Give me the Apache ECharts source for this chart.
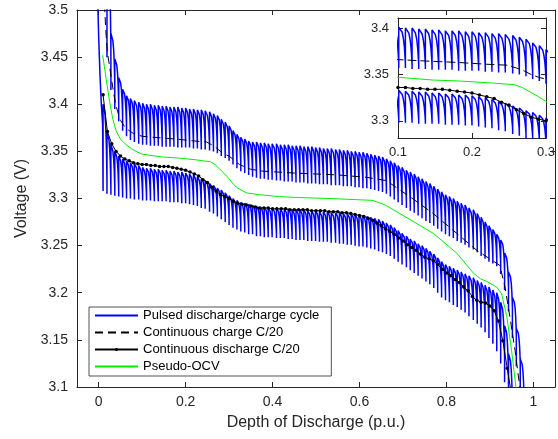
<!DOCTYPE html>
<html><head><meta charset="utf-8">
<script src="https://cdn.jsdelivr.net/npm/echarts@6/dist/echarts.min.js"></script>
<style>html,body{margin:0;padding:0;background:#fff}#c{width:558px;height:439px}</style>
</head><body><div id="c"></div>
<script>
// ---------- data ----------
const pulseDoD = [
0.001,0.010,0.019,0.028,0.037,0.046,0.055,0.064,0.073,0.082,
0.092,0.101,0.110,0.119,0.128,0.137,0.146,0.155,0.164,0.173,
0.182,0.191,0.200,0.209,0.218,0.227,0.236,0.245,0.255,0.264,
0.273,0.282,0.291,0.300,0.309,0.318,0.327,0.336,0.345,0.354,
0.363,0.372,0.381,0.390,0.399,0.409,0.418,0.427,0.436,0.445,
0.454,0.463,0.472,0.481,0.490,0.499,0.508,0.517,0.526,0.535,
0.545,0.554,0.563,0.572,0.581,0.590,0.599,0.608,0.617,0.626,
0.635,0.644,0.653,0.662,0.671,0.680,0.689,0.698,0.708,0.717,
0.726,0.735,0.744,0.753,0.762,0.771,0.780,0.789,0.798,0.807,
0.816,0.825,0.834,0.843,0.852,0.862,0.871,0.880,0.889,0.898,
0.907,0.916,0.925,0.934,0.943,0.952,0.961,0.970];

const chargePulseHigh = [
null,null,3.560,3.475,3.448,3.428,3.416,3.409,3.406,3.404,
3.402,3.401,3.400,3.400,3.399,3.399,3.398,3.398,3.397,3.397,
3.397,3.396,3.396,3.395,3.395,3.394,3.394,3.393,3.392,3.390,
3.388,3.384,3.381,3.377,3.372,3.368,3.365,3.363,3.361,3.360,
3.360,3.359,3.359,3.358,3.358,3.358,3.357,3.357,3.357,3.356,
3.356,3.356,3.355,3.355,3.355,3.354,3.354,3.353,3.353,3.353,
3.352,3.352,3.351,3.351,3.350,3.350,3.349,3.349,3.348,3.347,
3.346,3.345,3.344,3.342,3.340,3.338,3.335,3.333,3.330,3.328,
3.326,3.323,3.321,3.318,3.316,3.313,3.310,3.307,3.304,3.302,
3.300,3.297,3.295,3.293,3.290,3.288,3.284,3.280,3.275,3.271,
3.267,3.262,3.256,3.242,3.222,3.195,3.162,3.130];

const chargePulseLow = [
null,null,3.450,3.415,3.395,3.382,3.372,3.366,3.362,3.360,
3.358,3.357,3.357,3.356,3.356,3.356,3.355,3.355,3.355,3.355,
3.354,3.354,3.354,3.354,3.353,3.353,3.352,3.352,3.351,3.350,
3.348,3.345,3.343,3.340,3.336,3.332,3.329,3.327,3.325,3.323,
3.322,3.321,3.321,3.320,3.320,3.319,3.319,3.318,3.318,3.318,
3.317,3.317,3.317,3.316,3.316,3.316,3.315,3.315,3.315,3.314,
3.314,3.314,3.313,3.313,3.313,3.312,3.312,3.311,3.311,3.310,
3.309,3.308,3.307,3.305,3.302,3.299,3.296,3.293,3.290,3.287,
3.285,3.282,3.279,3.276,3.274,3.271,3.268,3.265,3.262,3.260,
3.258,3.255,3.253,3.251,3.248,3.246,3.243,3.239,3.236,3.233,
3.231,3.228,3.220,3.203,3.180,3.152,3.122,3.080];

// first discharge pulse: continuous descent from above the axis
const firstDischargeDoD = [-0.003,0.000,0.003,0.006,0.009];
const firstDischargeV   = [3.520,3.470,3.430,3.400,3.378];

const dischargePulseHigh = [
null,3.400,3.370,3.357,3.350,3.345,3.342,3.340,3.338,3.337,
3.335,3.333,3.332,3.332,3.331,3.331,3.330,3.330,3.329,3.329,
3.328,3.328,3.327,3.326,3.325,3.323,3.321,3.319,3.316,3.314,
3.311,3.309,3.306,3.303,3.300,3.298,3.296,3.295,3.294,3.293,
3.292,3.291,3.291,3.290,3.290,3.290,3.289,3.289,3.289,3.288,
3.288,3.288,3.288,3.287,3.287,3.287,3.286,3.286,3.286,3.285,
3.285,3.285,3.284,3.284,3.284,3.283,3.283,3.282,3.281,3.280,
3.279,3.278,3.276,3.274,3.272,3.269,3.266,3.263,3.260,3.257,
3.255,3.252,3.250,3.247,3.244,3.241,3.237,3.233,3.230,3.228,
3.226,3.224,3.222,3.220,3.218,3.216,3.213,3.211,3.208,3.206,
3.203,3.200,3.190,3.165,3.135];

const dischargePulseLow = [
null,3.308,3.305,3.304,3.303,3.302,3.301,3.300,3.300,3.299,
3.299,3.298,3.298,3.298,3.297,3.297,3.297,3.297,3.296,3.296,
3.296,3.295,3.295,3.294,3.293,3.292,3.290,3.289,3.286,3.284,
3.281,3.278,3.275,3.272,3.269,3.267,3.265,3.264,3.262,3.262,
3.260,3.260,3.259,3.259,3.259,3.258,3.258,3.258,3.257,3.257,
3.256,3.256,3.256,3.255,3.255,3.255,3.254,3.254,3.254,3.253,
3.253,3.252,3.252,3.251,3.251,3.250,3.249,3.249,3.248,3.247,
3.246,3.244,3.243,3.241,3.239,3.236,3.233,3.230,3.227,3.224,
3.221,3.218,3.215,3.212,3.209,3.205,3.200,3.195,3.192,3.190,
3.187,3.185,3.182,3.179,3.175,3.171,3.167,3.163,3.158,3.152,
3.146,3.138,3.125,3.105,3.075];

// waveform of one pulse: [fraction of pulse spacing, fraction of pulse amplitude]
const chargePulseShape = [[0,0],[0,1],[0.25,0.97],[0.5,0.88],[0.7,0.72],[0.85,0.5],[0.95,0.25],[1,0.08]];
const dischargePulseShape = [[0,0],[0,1],[0.25,0.97],[0.5,0.88],[0.7,0.72],[0.85,0.5],[0.95,0.25],[1,0.08]];

const dischargeDoD = [
0.01,0.02,0.03,0.04,0.05,0.06,0.07,0.08,0.09,0.10,
0.11,0.12,0.13,0.14,0.15,0.16,0.17,0.18,0.19,0.20,
0.21,0.22,0.23,0.24,0.25,0.26,0.27,0.28,0.29,0.30,
0.31,0.32,0.33,0.34,0.35,0.36,0.37,0.38,0.39,0.40,
0.41,0.42,0.43,0.44,0.45,0.46,0.47,0.48,0.49,0.50,
0.51,0.52,0.53,0.54,0.55,0.56,0.57,0.58,0.59,0.60,
0.61,0.62,0.63,0.64,0.65,0.66,0.67,0.68,0.69,0.70,
0.71,0.72,0.73,0.74,0.75,0.76,0.77,0.78,0.79,0.80,
0.81,0.82,0.83,0.84,0.85,0.86,0.87,0.88,0.89,0.90,
0.91,0.92,0.93,0.94,0.95];
const dischargeV = [
3.410,3.371,3.358,3.350,3.345,3.342,3.340,3.338,3.337,3.336,
3.336,3.335,3.335,3.334,3.334,3.334,3.333,3.332,3.331,3.330,
3.328,3.326,3.324,3.320,3.317,3.312,3.308,3.304,3.302,3.300,
3.297,3.295,3.294,3.293,3.292,3.291,3.290,3.290,3.290,3.289,
3.289,3.289,3.289,3.288,3.288,3.288,3.288,3.288,3.287,3.287,
3.287,3.287,3.286,3.286,3.286,3.285,3.285,3.284,3.283,3.282,
3.281,3.279,3.277,3.274,3.271,3.268,3.265,3.262,3.258,3.255,
3.251,3.248,3.245,3.241,3.238,3.236,3.234,3.230,3.225,3.221,
3.218,3.214,3.211,3.206,3.202,3.196,3.192,3.190,3.189,3.186,
3.181,3.170,3.149,3.120,3.092];

const chargeDoD = [0.012,0.016,0.020,0.025,0.030,0.035,0.040,0.045,0.050,0.060,0.070,0.080,0.100,0.150,0.180,0.220,0.248,0.260,0.270,0.280,0.290,0.300,0.324,0.350,0.378,0.450,0.550,0.616,0.662,0.690,0.716,0.770,0.824,0.870,0.923,0.935,0.946,0.958,0.969,0.975];
const chargeV   = [3.520,3.480,3.455,3.440,3.425,3.410,3.398,3.390,3.383,3.376,3.372,3.369,3.366,3.364,3.363,3.361,3.360,3.357,3.354,3.350,3.347,3.345,3.336,3.331,3.329,3.327,3.325,3.3225,3.319,3.310,3.302,3.284,3.263,3.245,3.229,3.206,3.175,3.139,3.100,3.080];

const ocvDoD = [0.009,0.013,0.017,0.025,0.032,0.040,0.050,0.063,0.075,0.086,0.100,0.147,0.182,0.224,0.257,0.268,0.279,0.290,0.300,0.310,0.320,0.340,0.370,0.416,0.462,0.532,0.631,0.660,0.693,0.730,0.770,0.824,0.862,0.878,0.893,0.916,0.927,0.939,0.950,0.960,0.965];
const ocvV   = [3.452,3.440,3.427,3.403,3.385,3.372,3.363,3.357,3.353,3.350,3.347,3.344,3.343,3.341,3.339,3.336,3.331,3.326,3.321,3.315,3.311,3.306,3.304,3.302,3.301,3.300,3.298,3.293,3.284,3.274,3.263,3.242,3.221,3.215,3.212,3.206,3.199,3.175,3.139,3.100,3.080];

const mainXTicks = [0,0.2,0.4,0.6,0.8,1];
const mainYTicks = [3.1,3.15,3.2,3.25,3.3,3.35,3.4,3.45,3.5];
const insetXTicks = [0.1,0.2,0.3];
const insetYTicks = [3.3,3.35,3.4];

const names = ['Pulsed discharge/charge cycle','Continuous charge C/20','Continuous discharge C/20','Pseudo-OCV'];

// ---------- build ----------
const zip = (a,b) => a.map((v,i)=>[v,b[i]]);
function pulseLine(xs, hi, lo, shape){
  const pts = [];
  for (let k = 0; k < hi.length; k++){
    if (hi[k] == null) continue;
    const d = (k + 1 < xs.length) ? xs[k+1] - xs[k] : xs[k] - xs[k-1];
    for (const [fx, fy] of shape) pts.push([xs[k] + fx*d, lo[k] + fy*(hi[k]-lo[k])]);
  }
  return pts;
}
const chargePulsePts = pulseLine(pulseDoD, chargePulseHigh, chargePulseLow, chargePulseShape);
const dischargePulsePts = zip(firstDischargeDoD, firstDischargeV)
  .concat(pulseLine(pulseDoD, dischargePulseHigh, dischargePulseLow, dischargePulseShape));

function makeSeries(xi, yi, dash){
  const base = {type:'line', xAxisIndex:xi, yAxisIndex:yi, clip:true, animation:false, silent:true};
  return [
    Object.assign({}, base, {name:names[0], data:chargePulsePts, symbol:'none', lineStyle:{color:'#0000ff', width:1.5}, itemStyle:{color:'#0000ff'}}),
    Object.assign({}, base, {name:names[0], data:dischargePulsePts, symbol:'none', lineStyle:{color:'#0000ff', width:1.5}, itemStyle:{color:'#0000ff'}}),
    Object.assign({}, base, {name:names[3], data:zip(ocvDoD, ocvV), symbol:'none', lineStyle:{color:'#00f000', width:1}, itemStyle:{color:'#00f000'}}),
    Object.assign({}, base, {name:names[1], data:zip(chargeDoD, chargeV), symbol:'none', lineStyle:{color:'#000', width:1, type:dash}, itemStyle:{color:'#000'}}),
    Object.assign({}, base, {name:names[2], data:zip(dischargeDoD, dischargeV), symbol:'circle', symbolSize:3.5, showSymbol:true, lineStyle:{color:'#000', width:1}, itemStyle:{color:'#000'}})
  ];
}

const axisColor = '#262626';
const fmt = v => String(+(+v).toFixed(3));
function xAx(grid, min, max, ticks, pos, showLabel, fs, name){
  return {type:'value', gridIndex:grid, min, max, position:pos,
    axisLine:{show:true, onZero:false, lineStyle:{color:axisColor, width:1}},
    axisTick:{show:true, inside:true, length:5, customValues:ticks, lineStyle:{color:axisColor}},
    axisLabel:{show:showLabel, customValues:ticks, formatter:fmt, color:axisColor, fontSize:fs, fontFamily:'Liberation Sans', margin:8},
    splitLine:{show:false},
    name:name||'', nameLocation:'middle', nameGap:28, nameTextStyle:{color:axisColor, fontSize:16, fontFamily:'Liberation Sans'}};
}
function yAx(grid, min, max, ticks, pos, showLabel, fs, name){
  return {type:'value', gridIndex:grid, min, max, position:pos,
    axisLine:{show:true, onZero:false, lineStyle:{color:axisColor, width:1}},
    axisTick:{show:true, inside:true, length:5, customValues:ticks, lineStyle:{color:axisColor}},
    axisLabel:{show:showLabel, customValues:ticks, formatter:fmt, color:axisColor, fontSize:fs, fontFamily:'Liberation Sans', margin:9},
    splitLine:{show:false},
    name:name||'', nameLocation:'middle', nameGap:35, nameRotate:90, nameTextStyle:{color:axisColor, fontSize:16, fontFamily:'Liberation Sans'}};
}

const chart = echarts.init(document.getElementById('c'), null, {renderer:'canvas'});
chart.setOption({
  animation:false,
  backgroundColor:'#fff',
  grid:[
    {left:77, top:10, width:478, height:377, show:false},
    {left:398, top:18, width:151, height:120, show:true, backgroundColor:'#fff', borderWidth:0}
  ],
  xAxis:[
    xAx(0,-0.05,1.05,mainXTicks,'bottom',true,14,'Depth of Discharge (p.u.)'),
    xAx(0,-0.05,1.05,mainXTicks,'top',false,14),
    xAx(1,0.1,0.3,insetXTicks,'bottom',true,13),
    xAx(1,0.1,0.3,insetXTicks,'top',false,13)
  ],
  yAxis:[
    yAx(0,3.1,3.5,mainYTicks,'left',true,14,'Voltage (V)'),
    yAx(0,3.1,3.5,mainYTicks,'right',false,14),
    yAx(1,3.2816,3.4108,insetYTicks,'left',true,13),
    yAx(1,3.2816,3.4108,insetYTicks,'right',false,13)
  ],
  legend:{
    data:[
      {name:names[0], itemStyle:{opacity:0}},
      {name:names[1], itemStyle:{opacity:0}},
      {name:names[2]},
      {name:names[3], itemStyle:{opacity:0}}
    ],
    orient:'vertical', left:89, top:307,
    itemWidth:43, itemHeight:4, itemGap:2, padding:[1,12,2,5],
    borderColor:axisColor, borderWidth:0.8, backgroundColor:'#fff',
    textStyle:{fontSize:13, lineHeight:15, fontFamily:'Liberation Sans', color:'#000'},
    selectedMode:false
  },
  series:[].concat(makeSeries(0,0,[8,5]), makeSeries(2,2,[9,4]))
});
</script></body></html>
